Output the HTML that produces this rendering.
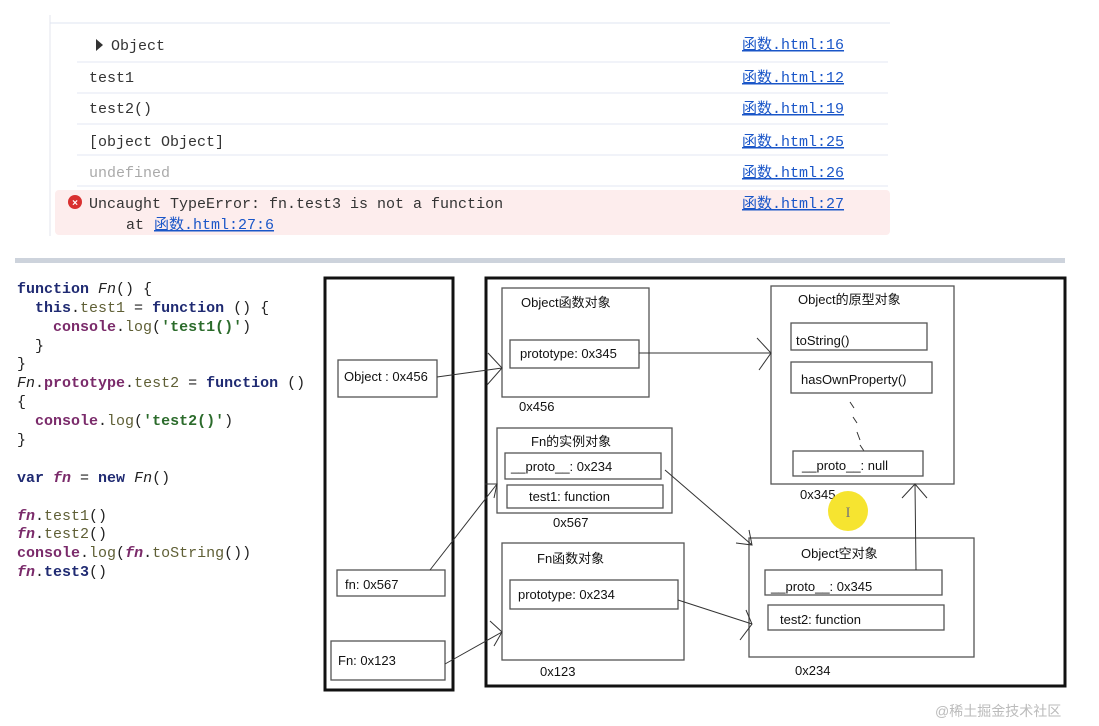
<!DOCTYPE html>
<html><head><meta charset="utf-8"><style>
html,body{margin:0;padding:0;background:#fff;width:1099px;height:726px;overflow:hidden}
svg{display:block}
.c{font-family:"Liberation Mono",monospace;font-size:15px}
.k{fill:#1f2a72;font-weight:bold}
.p{fill:#7a2a6a;font-weight:bold}
.m{fill:#5f5f35}
.s{fill:#2b6b2b;font-weight:bold}
.d{fill:#222}
.con{font-family:"Liberation Mono","Noto Sans CJK SC",monospace;font-size:15px;fill:#333}
.lnk{font-family:"Liberation Mono","Noto Sans CJK SC",monospace;font-size:15px;fill:#1a56c8;text-decoration:underline}
.t{font-family:"Liberation Sans","Noto Sans CJK SC",sans-serif;font-size:13px;fill:#111}
.bx{fill:none;stroke:#555;stroke-width:1.3}
.ar{stroke:#333;stroke-width:1;fill:none}
</style></head><body>
<svg width="1099" height="726" xmlns="http://www.w3.org/2000/svg">
<!-- console -->
<line x1="50" y1="15" x2="50" y2="236" stroke="#e3e6ee"/>
<line x1="50" y1="23" x2="890" y2="23" stroke="#dfe4f2"/>
<g stroke="#e3e7f3"><line x1="77" y1="62" x2="888" y2="62"/><line x1="77" y1="93" x2="888" y2="93"/><line x1="77" y1="124" x2="888" y2="124"/><line x1="77" y1="155" x2="888" y2="155"/><line x1="77" y1="186" x2="888" y2="186"/></g>
<rect x="55" y="190" width="835" height="45" rx="4" fill="#fdeded"/>
<path d="M96 39 L103 45 L96 51Z" fill="#333"/>
<text class="con" x="111" y="50">Object</text>
<text class="con" x="89" y="82">test1</text>
<text class="con" x="89" y="113">test2()</text>
<text class="con" x="89" y="146">[object Object]</text>
<text class="con" x="89" y="177" style="fill:#aaa">undefined</text>
<circle cx="75" cy="202" r="7" fill="#d93030"/>
<text x="75" y="206" font-size="10" fill="#fff" text-anchor="middle" font-family="Liberation Sans" font-weight="bold">×</text>
<text class="con" x="89" y="208">Uncaught TypeError: fn.test3 is not a function</text>
<text class="con" x="126" y="229">at</text>
<text class="lnk" x="154" y="229">函数.html:27:6</text>
<text class="lnk" x="742" y="49">函数.html:16</text>
<text class="lnk" x="742" y="82">函数.html:12</text>
<text class="lnk" x="742" y="113">函数.html:19</text>
<text class="lnk" x="742" y="146">函数.html:25</text>
<text class="lnk" x="742" y="177">函数.html:26</text>
<text class="lnk" x="742" y="208">函数.html:27</text>
<rect x="15" y="258" width="1050" height="5" fill="#cdd3dc"/>
<!-- code -->
<g class="c">
<text x="17" y="293"><tspan class="k">function </tspan><tspan class="d" font-style="italic">Fn</tspan><tspan class="d">() {</tspan></text>
<text x="35" y="312"><tspan class="k">this</tspan><tspan class="d">.</tspan><tspan class="m">test1</tspan><tspan class="d"> = </tspan><tspan class="k">function</tspan><tspan class="d"> () {</tspan></text>
<text x="53" y="331"><tspan class="p">console</tspan><tspan class="d">.</tspan><tspan class="m">log</tspan><tspan class="d">(</tspan><tspan class="s">'test1()'</tspan><tspan class="d">)</tspan></text>
<text x="35" y="350" class="d">}</text>
<text x="17" y="368" class="d">}</text>
<text x="17" y="387"><tspan class="d" font-style="italic">Fn</tspan><tspan class="d">.</tspan><tspan class="p">prototype</tspan><tspan class="d">.</tspan><tspan class="m">test2</tspan><tspan class="d"> = </tspan><tspan class="k">function</tspan><tspan class="d"> ()</tspan></text>
<text x="17" y="406" class="d">{</text>
<text x="35" y="425"><tspan class="p">console</tspan><tspan class="d">.</tspan><tspan class="m">log</tspan><tspan class="d">(</tspan><tspan class="s">'test2()'</tspan><tspan class="d">)</tspan></text>
<text x="17" y="444" class="d">}</text>
<text x="17" y="482"><tspan class="k">var </tspan><tspan class="p" font-style="italic">fn</tspan><tspan class="d"> = </tspan><tspan class="k">new </tspan><tspan class="d" font-style="italic">Fn</tspan><tspan class="d">()</tspan></text>
<text x="17" y="520"><tspan class="p" font-style="italic">fn</tspan><tspan class="d">.</tspan><tspan class="m">test1</tspan><tspan class="d">()</tspan></text>
<text x="17" y="538"><tspan class="p" font-style="italic">fn</tspan><tspan class="d">.</tspan><tspan class="m">test2</tspan><tspan class="d">()</tspan></text>
<text x="17" y="557"><tspan class="p">console</tspan><tspan class="d">.</tspan><tspan class="m">log</tspan><tspan class="d">(</tspan><tspan class="p" font-style="italic">fn</tspan><tspan class="d">.</tspan><tspan class="m">toString</tspan><tspan class="d">())</tspan></text>
<text x="17" y="576"><tspan class="p" font-style="italic">fn</tspan><tspan class="d">.</tspan><tspan class="k">test3</tspan><tspan class="d">()</tspan></text>
</g>
<!-- diagram -->
<rect x="325" y="278" width="128" height="412" fill="none" stroke="#111" stroke-width="3"/>
<rect x="486" y="278" width="579" height="408" fill="none" stroke="#111" stroke-width="3"/>
<rect class="bx" x="338" y="360" width="99" height="37"/><text class="t" x="344" y="381">Object : 0x456</text>
<rect class="bx" x="337" y="570" width="108" height="26"/><text class="t" x="345" y="589">fn: 0x567</text>
<rect class="bx" x="331" y="641" width="114" height="39"/><text class="t" x="338" y="665">Fn: 0x123</text>

<rect class="bx" x="502" y="288" width="147" height="109"/><text class="t" x="521" y="307">Object函数对象</text>
<rect class="bx" x="510" y="340" width="129" height="28"/><text class="t" x="520" y="358">prototype: 0x345</text>
<text class="t" x="519" y="411">0x456</text>

<rect class="bx" x="771" y="286" width="183" height="198"/><text class="t" x="798" y="304">Object的原型对象</text>
<rect class="bx" x="791" y="323" width="136" height="27"/><text class="t" x="796" y="345">toString()</text>
<rect class="bx" x="791" y="362" width="141" height="31"/><text class="t" x="801" y="384">hasOwnProperty()</text>
<path d="M850 402 l4 6 M853 417 l4 6 M857 432 l3 8 M860 445 l4 6" stroke="#333"/>
<rect class="bx" x="793" y="451" width="130" height="25"/><text class="t" x="802" y="470">__proto__: null</text>
<text class="t" x="800" y="499">0x345</text>

<rect class="bx" x="497" y="428" width="175" height="85"/><text class="t" x="531" y="446">Fn的实例对象</text>
<rect class="bx" x="505" y="453" width="156" height="26"/><text class="t" x="511" y="471">__proto__: 0x234</text>
<rect class="bx" x="507" y="485" width="156" height="23"/><text class="t" x="529" y="501">test1: function</text>
<text class="t" x="553" y="527">0x567</text>

<rect class="bx" x="502" y="543" width="182" height="117"/><text class="t" x="537" y="563">Fn函数对象</text>
<rect class="bx" x="510" y="580" width="168" height="29"/><text class="t" x="518" y="599">prototype: 0x234</text>
<text class="t" x="540" y="676">0x123</text>

<rect class="bx" x="749" y="538" width="225" height="119"/><text class="t" x="801" y="558">Object空对象</text>
<rect class="bx" x="765" y="570" width="177" height="25"/><text class="t" x="771" y="591">__proto__: 0x345</text>
<rect class="bx" x="768" y="605" width="176" height="25"/><text class="t" x="780" y="624">test2: function</text>
<text class="t" x="795" y="675">0x234</text>

<!-- arrows -->
<g class="ar">
<path d="M437 377 L502 368 M488 353 L502 368 L487 385"/>
<path d="M639 353 L771 353 M757 338 L771 353 L759 370"/>
<path d="M430 570 L497 484 M485 484 L497 484 L494 498"/>
<path d="M445 664 L502 632 M490 621 L502 632 L494 646"/>
<path d="M665 470 L752 545 M736 543 L752 545 L749 530"/>
<path d="M678 600 L752 624 M740 640 L752 624 L746 610"/>
<path d="M916 570 L915 484 M902 498 L915 484 L927 498"/>
</g>
<circle cx="848" cy="511" r="20" fill="#f5e11a" opacity="0.9"/>
<text x="848" y="517" font-size="15" text-anchor="middle" fill="#777" font-family="Liberation Serif">I</text>
<text x="935" y="716" font-family="Liberation Sans","Noto Sans CJK SC",sans-serif font-size="14" fill="#bbb" style="font-family:'Liberation Sans','Noto Sans CJK SC',sans-serif">@稀土掘金技术社区</text>
</svg>
</body></html>
